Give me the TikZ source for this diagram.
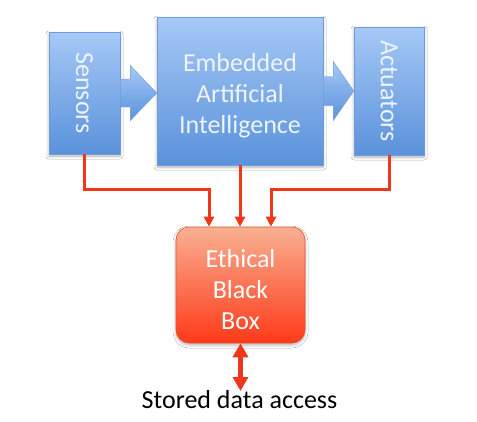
\documentclass[tikz,border=0pt]{standalone}
\usepackage{fontspec}
\setmainfont{Carlito}
\usetikzlibrary{arrows.meta,shadows.blur,calc}
\definecolor{bluetop}{HTML}{A6C8F6}
\definecolor{bluebot}{HTML}{5A92DB}
\definecolor{blueedge}{HTML}{6E9BD9}
\definecolor{redtop}{HTML}{F8B092}
\definecolor{redbot}{HTML}{FF3A18}
\definecolor{rededge}{HTML}{E8502E}
\definecolor{redline}{HTML}{F2361C}
\definecolor{boxtext}{HTML}{EEF4FC}
\begin{document}
\begin{tikzpicture}[x=1pt,y=-1pt,
  bigfont/.style={font=\fontsize{26}{31}\selectfont},
  softshadow/.style={blur shadow={shadow xshift=0pt,shadow yshift=-2pt,shadow blur radius=3pt,shadow opacity=30}},
  bluebox/.style={draw=blueedge, line width=0.6pt, top color=bluetop, bottom color=bluebot,
    inner sep=0pt, softshadow},
  boxlabel/.style={text=boxtext, bigfont, align=center, inner sep=0pt},
  redbox/.style={draw=rededge, line width=0.6pt, top color=redtop, bottom color=redbot,
    rounded corners=13pt, inner sep=0pt, softshadow},
  blockarrow/.style={draw=blueedge, line width=0.4pt, top color=bluetop, bottom color=bluebot},
  redconn/.style={draw=redline, line width=3pt, line join=miter,
    -{Triangle[width=10pt,length=10pt]}},
  dataarrow/.style={draw=redline, line width=5pt,
    {Triangle[width=15pt,length=14pt]}-{Triangle[width=15pt,length=14pt]}}
]
\useasboundingbox[fill=white] (0,0) rectangle (477,421);

% blue boxes
\node[bluebox, minimum width=71pt, minimum height=122pt] (sens) at (84.5,93) {};
\node[boxlabel, rotate=-90] (senslabel) at (sens.center) {Sensors};
\node[bluebox, minimum width=166pt, minimum height=148pt] (eai) at (240,91) {};
\node[boxlabel, yshift=-5pt] (eailabel) at (eai.center) {Embedded\\Artificial\\Intelligence};
\node[bluebox, minimum width=70pt, minimum height=128pt] (act) at (389,91) {};
\node[boxlabel, rotate=-90] (actlabel) at (act.center) {Actuators};

% block arrows
\shade[blockarrow] ($(sens.east)+(0,-14)$) -- ++(10,0) -- ++(0,-13.5)
  -- (eai.west |- sens.east) -- ($(sens.east)+(10,27.5)$) -- ++(0,-13.5)
  -- ($(sens.east)+(0,14)$) -- cycle;
\coordinate (a2) at (eai.east |- act.west);
\shade[blockarrow] ($(a2)+(0,-14.5)$) -- ++(10,0) -- ++(0,-15)
  -- (act.west) -- ($(a2)+(10,29.5)$) -- ++(0,-15)
  -- ($(a2)+(0,14.5)$) -- cycle;

% ethical black box
\node[redbox, minimum width=129pt, minimum height=116pt] (ebb) at (240.5,285) {};
\node[boxlabel, text=white, yshift=-5pt] (ebblabel) at (ebb.center) {Ethical\\Black\\Box};

% red connectors
\coordinate (lb) at (209,189);
\coordinate (rb) at (271,189);
\draw[redconn] (sens.south) |- (lb) -- (lb |- ebb.north);
\draw[redconn] (eai.south) -- (eai.south |- ebb.north);
\draw[redconn] (act.south) |- (rb) -- (rb |- ebb.north);

% stored data access
\node[anchor=base, bigfont, text=black, inner sep=0pt] (store) at (239.5,408) {Stored data access};
\coordinate (dtip) at (ebb.south |- 0,391);
\draw[dataarrow] (ebb.south) -- (dtip);
\end{tikzpicture}
\end{document}
